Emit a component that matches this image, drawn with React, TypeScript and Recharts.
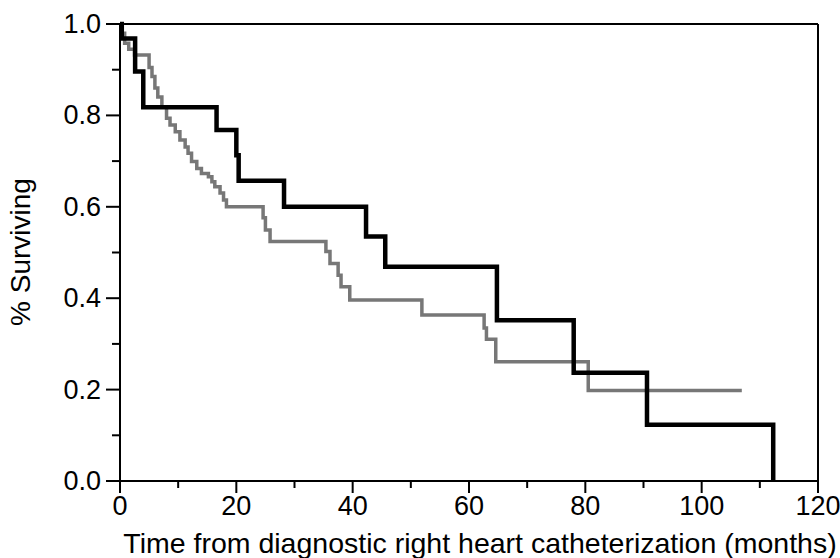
import React from "react";
import { LineChart, Line, XAxis, YAxis, ReferenceLine } from "recharts";

// Kaplan-Meier style survival curves
const xTicks = [0, 10, 20, 30, 40, 50, 60, 70, 80, 90, 100, 110, 120];
const yTicks = [0, 0.1, 0.2, 0.3, 0.4, 0.5, 0.6, 0.7, 0.8, 0.9, 1.0];

const blackMonths = [0, 0.3, 2.6, 4.0, 16.6, 20.0, 20.4, 28.2, 42.3, 45.6, 64.8, 78.0, 90.6, 112.3];
const blackSurv = [1.0, 0.968, 0.896, 0.818, 0.768, 0.713, 0.657, 0.6, 0.535, 0.469, 0.352, 0.237, 0.123, 0.0];

const grayMonths = [
  0, 0.4, 0.8, 1.5, 2.5, 5.0, 5.5, 6.0, 6.5, 7.2, 8.0, 8.6, 9.5, 10.3, 11.2, 11.7, 12.3, 13.2,
  14.0, 15.2, 15.8, 16.3, 17.2, 17.8, 18.3, 24.6, 25.0, 25.8, 35.4, 36.1, 37.5, 38.0, 39.5,
  51.9, 62.6, 63.0, 64.6, 80.5, 106.9,
];
const graySurv = [
  1.0, 0.98, 0.958, 0.945, 0.932, 0.905, 0.885, 0.86, 0.84, 0.819, 0.794, 0.779, 0.764, 0.746,
  0.731, 0.717, 0.699, 0.684, 0.673, 0.666, 0.655, 0.644, 0.63, 0.615, 0.6, 0.576, 0.549, 0.524,
  0.502, 0.476, 0.45, 0.425, 0.396, 0.363, 0.335, 0.31, 0.261, 0.198, 0.198,
];

const blackData = blackMonths.map((t, i) => ({ t, s: blackSurv[i] }));
const grayData = grayMonths.map((t, i) => ({ t, s: graySurv[i] }));

const FONT = "'Liberation Sans', Arial, Helvetica, sans-serif";

function XTick({ x, y, payload }: any) {
  const major = payload.value % 20 === 0;
  return (
    <g>
      <line x1={x} y1={y} x2={x} y2={y + (major ? 12 : 7)} stroke="#000" strokeWidth={2} />
      {major && (
        <text x={x} y={y + 34} textAnchor="middle" fontSize={27} fill="#000" fontFamily={FONT}>
          {payload.value}
        </text>
      )}
    </g>
  );
}

function YTick({ x, y, payload }: any) {
  const major = Math.round(payload.value * 10) % 2 === 0;
  return (
    <g>
      <line x1={x} y1={y} x2={x - (major ? 14 : 8)} y2={y} stroke="#000" strokeWidth={2} />
      {major && (
        <text x={x - 19} y={y + 9} textAnchor="end" fontSize={27} fill="#000" fontFamily={FONT}>
          {payload.value.toFixed(1)}
        </text>
      )}
    </g>
  );
}

export default function App() {
  return (
    <div style={{ position: "absolute", left: 0, top: 0, width: 840, height: 558, background: "#fff" }}>
      <LineChart width={840} height={558} margin={{ top: 24, right: 22, bottom: 0, left: 0 }}>
        <XAxis
          dataKey="t"
          type="number"
          domain={[0, 120]}
          ticks={xTicks}
          interval={0}
          tickSize={0}
          tickMargin={0}
          tick={<XTick />}
          axisLine={{ stroke: "#000", strokeWidth: 2 }}
          height={77}
        />
        <YAxis
          type="number"
          domain={[0, 1]}
          ticks={yTicks}
          interval={0}
          tickSize={0}
          tickMargin={0}
          tick={<YTick />}
          axisLine={{ stroke: "#000", strokeWidth: 2 }}
          width={120}
        />
        <ReferenceLine y={1} stroke="#000" strokeWidth={2} />
        <ReferenceLine x={120} stroke="#000" strokeWidth={2} />
        <Line
          data={grayData}
          dataKey="s"
          type="stepAfter"
          stroke="#777"
          strokeWidth={3.5}
          dot={false}
          isAnimationActive={false}
        />
        <Line
          data={blackData}
          dataKey="s"
          type="stepAfter"
          stroke="#000"
          strokeWidth={4.5}
          dot={false}
          isAnimationActive={false}
        />
        <text
          x={30}
          y={252}
          transform="rotate(-90 30 252)"
          textAnchor="middle"
          fontSize={28}
          fill="#000"
          fontFamily={FONT}
        >
          % Surviving
        </text>
        <text x={480} y={553} textAnchor="middle" fontSize={28.5} fill="#000" fontFamily={FONT}>
          Time from diagnostic right heart catheterization (months)
        </text>
      </LineChart>
    </div>
  );
}
